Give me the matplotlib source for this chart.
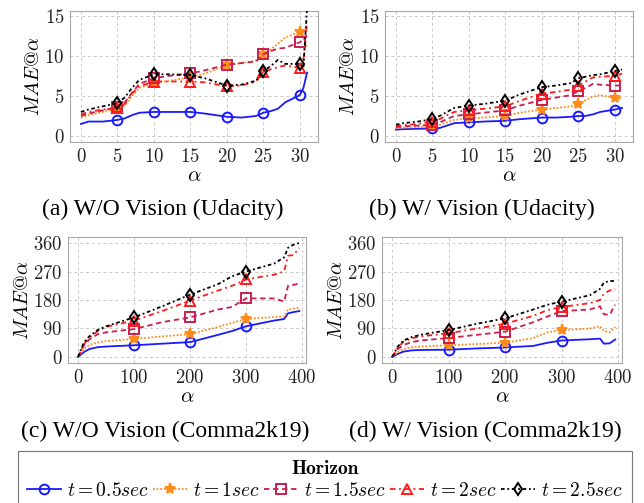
import numpy as np
import matplotlib
matplotlib.use('Agg')
import matplotlib.pyplot as plt

plt.rcParams['font.family'] = 'cmr10'
plt.rcParams['mathtext.fontset'] = 'cm'
plt.rcParams['axes.formatter.use_mathtext'] = True

# ---- Udacity (alpha in 0..31) ----
x_uda = [0, 1, 3, 5, 6, 7, 8, 10, 12, 15, 17, 20, 22, 24, 25, 26, 27, 28, 30, 30.5, 31]

uda_wo = {
    '0.5': [1.5, 1.8, 1.8, 2.0, 2.2, 2.6, 2.9, 3.0, 3.0, 3.0, 2.8, 2.4, 2.3, 2.5, 2.9, 3.1, 3.4, 4.2, 5.1, 6.0, 7.9],
    '1':   [2.3, 2.6, 3.0, 3.4, 3.8, 5.0, 6.0, 6.6, 6.9, 7.3, 7.8, 8.8, 9.1, 9.4, 10.2, 10.8, 11.5, 12.3, 13.0, 12.2, 11.0],
    '1.5': [2.5, 2.8, 3.2, 3.6, 4.2, 5.4, 6.5, 7.2, 7.5, 7.8, 8.2, 8.9, 9.1, 9.3, 10.2, 10.6, 10.9, 11.0, 11.7, 12.0, 12.5],
    '2':   [2.7, 3.0, 3.3, 3.5, 4.0, 5.3, 6.2, 6.8, 6.8, 6.8, 6.7, 6.2, 6.3, 6.8, 8.0, 8.3, 8.6, 8.8, 8.5, 9.5, 14.3],
    '2.5': [3.0, 3.3, 3.7, 4.1, 4.8, 6.0, 7.0, 7.7, 7.7, 7.6, 7.2, 6.3, 6.4, 6.9, 8.1, 8.7, 9.5, 9.0, 9.0, 8.5, 16.0],
}
uda_w = {
    '0.5': [0.8, 0.85, 0.9, 0.95, 1.0, 1.3, 1.6, 1.7, 1.8, 1.9, 2.1, 2.3, 2.3, 2.4, 2.5, 2.5, 2.7, 3.0, 3.3, 3.4, 3.5],
    '1':   [1.0, 1.05, 1.1, 1.2, 1.4, 1.7, 2.0, 2.2, 2.3, 2.5, 2.9, 3.3, 3.5, 3.7, 4.0, 4.5, 4.9, 5.1, 4.8, 4.7, 4.6],
    '1.5': [1.1, 1.2, 1.3, 1.4, 1.7, 2.1, 2.5, 2.7, 2.9, 3.2, 3.8, 4.5, 4.8, 5.1, 5.6, 6.0, 6.5, 6.4, 6.3, 6.3, 6.2],
    '2':   [1.2, 1.35, 1.5, 1.8, 2.1, 2.6, 3.0, 3.2, 3.4, 3.7, 4.4, 5.3, 5.5, 5.8, 6.3, 6.8, 7.3, 7.4, 7.5, 7.6, 7.8],
    '2.5': [1.4, 1.6, 1.8, 2.1, 2.5, 3.0, 3.5, 3.8, 4.0, 4.4, 5.2, 6.1, 6.3, 6.6, 7.2, 7.4, 7.6, 7.7, 8.1, 8.2, 8.3],
}

# ---- Comma2k19 (alpha in 0..395) ----
x_com = [0, 10, 20, 35, 50, 100, 150, 200, 250, 275, 300, 350, 368, 375, 385, 395]

com_wo = {
    '0.5': [0, 15, 25, 31, 33, 37, 42, 47, 70, 82, 97, 115, 120, 138, 142, 145],
    '1':   [0, 25, 38, 46, 50, 57, 65, 72, 95, 108, 120, 126, 128, 150, 153, 155],
    '1.5': [0, 35, 55, 72, 78, 88, 110, 125, 150, 158, 185, 185, 175, 225, 228, 232],
    '2':   [0, 40, 60, 82, 95, 115, 145, 178, 210, 225, 245, 260, 270, 320, 322, 345],
    '2.5': [0, 45, 65, 85, 97, 125, 160, 197, 230, 255, 270, 295, 315, 345, 355, 360],
}
com_w = {
    '0.5': [0, 10, 17, 21, 22, 23, 27, 30, 35, 45, 52, 56, 58, 42, 43, 55],
    '1':   [0, 15, 25, 31, 33, 37, 41, 45, 60, 78, 85, 90, 97, 82, 78, 95],
    '1.5': [0, 25, 38, 47, 52, 60, 70, 80, 110, 128, 145, 150, 160, 135, 133, 165],
    '2':   [0, 30, 48, 59, 65, 75, 90, 105, 130, 148, 158, 170, 180, 200, 210, 215],
    '2.5': [0, 33, 52, 63, 70, 85, 105, 122, 150, 165, 175, 195, 215, 235, 240, 240],
}

horizons = ['0.5', '1', '1.5', '2', '2.5']
labels = [r'$t = 0.5sec$', r'$t = 1sec$', r'$t = 1.5sec$', r'$t = 2sec$', r'$t = 2.5sec$']
colors = ['#1a1aff', '#ff8c1a', '#c81e50', '#ff1a1a', '#000000']
styles = ['-', (0, (1, 1)), (0, (3, 2)), (0, (3, 2, 1, 2)), (0, (2, 1.5, 1, 1.5))]
markers = ['o', '*', 's', '^', 'd']
msizes = [7, 8, 7, 6.5, 6.5]

fig = plt.figure(figsize=(6.44, 5.03), dpi=100)

panels = [
    ([70 / 644, 1 - 142 / 503, 248 / 644, 131 / 503], x_uda, uda_wo, [5, 10, 15, 20, 25, 30],
     (-1.5, 32.5), (-0.75, 15.6), [0, 5, 10, 15], [0, 5, 10, 15, 20, 25, 30]),
    ([385 / 644, 1 - 142 / 503, 248 / 644, 131 / 503], x_uda, uda_w, [5, 10, 15, 20, 25, 30],
     (-1.5, 32.5), (-0.75, 15.6), [0, 5, 10, 15], [0, 5, 10, 15, 20, 25, 30]),
    ([68 / 644, 1 - 363 / 503, 238 / 644, 126 / 503], x_com, com_wo, [100, 200, 300],
     (-18, 407), (-19, 379), [0, 90, 180, 270, 360], [0, 100, 200, 300, 400]),
    ([382 / 644, 1 - 363 / 503, 240 / 644, 126 / 503], x_com, com_w, [100, 200, 300],
     (-18, 407), (-19, 379), [0, 90, 180, 270, 360], [0, 100, 200, 300, 400]),
]

handles = []
for k, (rect, xs, data, mk_x, xl, yl, yt, xt) in enumerate(panels):
    ax = fig.add_axes(rect)
    mk_idx = [xs.index(v) for v in mk_x]
    for i, h in enumerate(horizons):
        face = colors[i] if markers[i] == '*' else 'none'
        ln, = ax.plot(xs, data[h], color=colors[i], linestyle=styles[i], linewidth=1.3,
                      marker=markers[i], markevery=mk_idx, markersize=msizes[i],
                      markerfacecolor=face, markeredgecolor=colors[i], markeredgewidth=1.4,
                      label=labels[i], zorder=3 + i)
        if k == 0:
            handles.append(ln)
    ax.set_xlim(*xl)
    ax.set_ylim(*yl)
    ax.set_xticks(xt)
    ax.set_yticks(yt)
    ax.grid(True, linestyle=(0, (3, 3)), color='#c8c8c8', linewidth=0.7)
    ax.set_axisbelow(True)
    for s in ax.spines.values():
        s.set_color('#a8a8a8')
    ax.tick_params(length=0, labelsize=13.5, pad=4, colors='#222222')
    ax.set_xlabel(r'$\alpha$', fontsize=15, labelpad=1)
    ax.set_ylabel(r'$MAE@\alpha$', fontsize=14.5, labelpad=1)

cap = dict(ha='center', va='center', fontsize=17, family='Liberation Serif')
fig.text(163 / 644, 1 - 209 / 503, '(a) W/O Vision (Udacity)', **cap)
fig.text(482 / 644, 1 - 209 / 503, '(b) W/ Vision (Udacity)', **cap)
fig.text(165 / 644, 1 - 431 / 503, '(c) W/O Vision (Comma2k19)', **cap)
fig.text(485 / 644, 1 - 431 / 503, '(d) W/ Vision (Comma2k19)', **cap)

leg = fig.legend(handles=handles, loc='upper center', bbox_to_anchor=(0.5045, 1 - 451 / 503),
                 ncol=5, fontsize=14, title='Horizon', title_fontproperties={'family': 'cmb10', 'size': 14},
                 frameon=True, fancybox=False, edgecolor='#555555', handlelength=1.75,
                 handletextpad=0.3, columnspacing=0.2, borderpad=0.45, labelspacing=0.2,
                 borderaxespad=0)
leg.get_frame().set_linewidth(0.8)

fig.savefig('out.png', dpi=100)
